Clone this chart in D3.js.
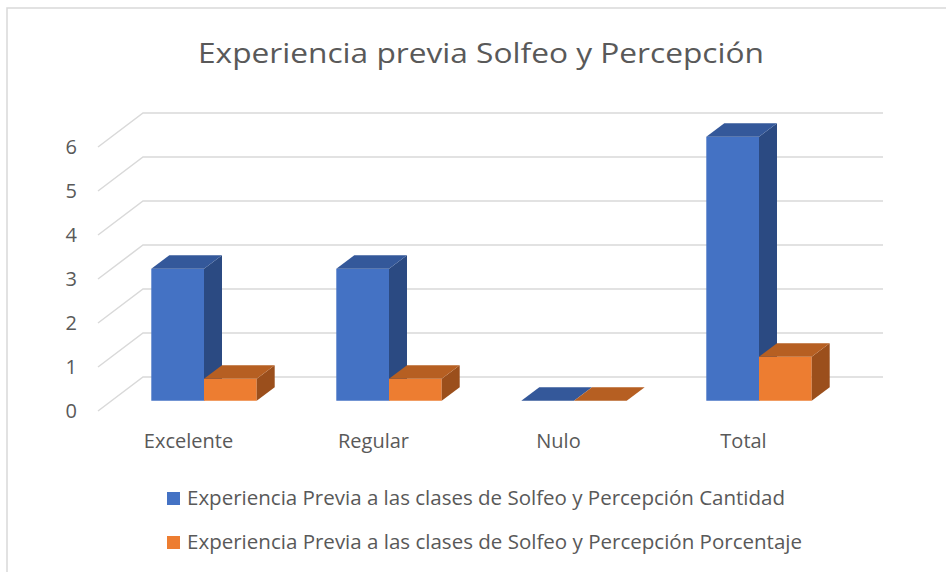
<!DOCTYPE html>
<html>
<head>
<meta charset="utf-8">
<script src="https://cdn.jsdelivr.net/npm/d3@7"></script>
<style>
body { margin: 0; background: #fff; }
text { font-family: "Open Sans", sans-serif; fill: #595959; }
</style>
</head>
<body>
<script>
categories = ["Excelente", "Regular", "Nulo", "Total"];
seriesNames = [
    "Experiencia Previa a las clases de Solfeo y Percepción Cantidad",
    "Experiencia Previa a las clases de Solfeo y Percepción Porcentaje"
];
cantidad = [3, 3, 0, 6];
porcentaje = [0.5, 0.5, 0, 1];
yTicks = [0, 1, 2, 3, 4, 5, 6];
title = "Experiencia previa Solfeo y Percepción";

gColors = [
    {front: "#4472c4", top: "#34589a", side: "#2b4a82"},
    {front: "#ed7d31", top: "#b65f22", side: "#9b4f1c"}
];

// depth of the 3d box (full depth offset)
DEPTH_DX = 45;
DEPTH_DY = -34;
BAR_F0 = 0.3;
BAR_F1 = 0.7;

var width = 946, height = 572;

var svg = d3.select("body").append("svg")
    .attr("width", width)
    .attr("height", height);

// chart frame
svg.append("rect")
    .attr("x", 7).attr("y", 8)
    .attr("width", 960).attr("height", 620)
    .style("fill", "white")
    .style("stroke", "#d9d9d9")
    .style("stroke-width", 1.5);

svg.append("text")
    .attr("x", 481).attr("y", 63)
    .attr("text-anchor", "middle")
    .attr("textLength", 566)
    .attr("lengthAdjust", "spacingAndGlyphs")
    .style("font-size", "28px")
    .text(title);

var x0 = d3.scaleBand().domain(categories).range([98, 838]);
var x1 = d3.scaleBand().domain([0, 1]).range([0, x0.bandwidth()]).paddingOuter(0.755);
var y = d3.scaleLinear().domain([0, 6]).range([411, 147]);

function proj(x, v, f) {
    return [x + DEPTH_DX * f, y(v) + DEPTH_DY * f];
}

// gridlines: diagonal on the side wall and horizontal on the back wall
var grid = svg.append("g");
yTicks.forEach(function(t) {
    var a = proj(x0.range()[0], t, 0),
        b = proj(x0.range()[0], t, 1),
        c = proj(x0.range()[1], t, 1);
    grid.append("path")
        .attr("d", d3.line()([a, b, c]))
        .style("fill", "none")
        .style("stroke", "#d9d9d9")
        .style("stroke-width", 1.5);
});

// y labels
svg.append("g").selectAll("text")
    .data(yTicks)
    .enter()
    .append("text")
    .attr("x", 77)
    .attr("y", function(d) { return y(d) + 7; })
    .attr("text-anchor", "end")
    .style("font-size", "20px")
    .text(function(d) { return d; });

// category labels
svg.append("g").selectAll("text")
    .data(categories)
    .enter()
    .append("text")
    .attr("x", function(d) { return x0(d) + x0.bandwidth() / 2 - 2; })
    .attr("y", 448)
    .attr("text-anchor", "middle")
    .style("font-size", "20px")
    .text(function(d) { return d; });

// bars
var bars = [];
categories.forEach(function(c, i) {
    [cantidad[i], porcentaje[i]].forEach(function(v, s) {
        bars.push({cat: c, s: s, value: v});
    });
});

var poly = function(pts) { return d3.line()(pts) + "Z"; };

var barG = svg.append("g").selectAll("g")
    .data(bars)
    .enter()
    .append("g");

barG.each(function(d) {
    var g = d3.select(this);
    var xl = x0(d.cat) + x1(d.s), xr = xl + x1.bandwidth();
    var col = gColors[d.s];
    // front face
    g.append("path")
        .attr("d", poly([proj(xl, 0, BAR_F0), proj(xr, 0, BAR_F0), proj(xr, d.value, BAR_F0), proj(xl, d.value, BAR_F0)]))
        .style("fill", col.front);
    // side face
    g.append("path")
        .attr("d", poly([proj(xr, 0, BAR_F0), proj(xr, 0, BAR_F1), proj(xr, d.value, BAR_F1), proj(xr, d.value, BAR_F0)]))
        .style("fill", col.side);
    // top face
    g.append("path")
        .attr("d", poly([proj(xl, d.value, BAR_F0), proj(xr, d.value, BAR_F0), proj(xr, d.value, BAR_F1), proj(xl, d.value, BAR_F1)]))
        .style("fill", col.top);
});

// legend
var legend = svg.append("g").selectAll("g")
    .data(seriesNames)
    .enter()
    .append("g")
    .attr("transform", function(d, i) { return "translate(167," + (492 + i * 44) + ")"; });

legend.append("rect")
    .attr("width", 13).attr("height", 13)
    .style("fill", function(d, i) { return gColors[i].front; });

legend.append("text")
    .attr("x", 20).attr("y", 13)
    .attr("textLength", function(d, i) { return i == 0 ? 598 : 615; })
    .attr("lengthAdjust", "spacingAndGlyphs")
    .style("font-size", "20px")
    .text(function(d) { return d; });
</script>
</body>
</html>
